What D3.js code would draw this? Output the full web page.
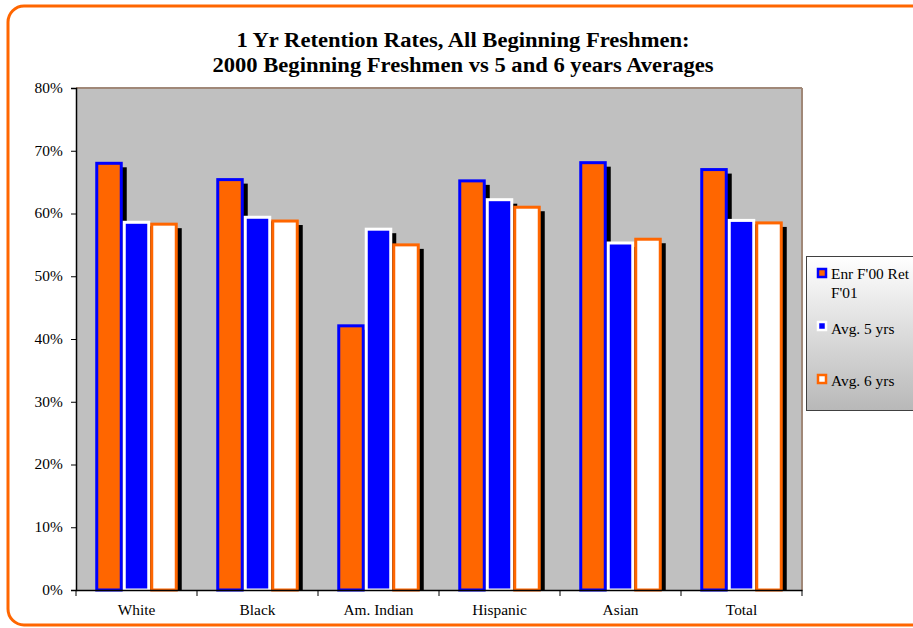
<!DOCTYPE html>
<html><head><meta charset="utf-8">
<script src="https://cdn.jsdelivr.net/npm/d3@7"></script>
<style>body{margin:0;background:#fff;}svg{display:block;}</style>
</head><body>
<svg id="c" width="913" height="628"></svg>
<script>
const categories = ["White","Black","Am. Indian","Hispanic","Asian","Total"];
const seriesNames = ["Enr F'00 Ret F'01","Avg. 5 yrs","Avg. 6 yrs"];
const enrF00 = [68.0, 65.4, 42.1, 65.2, 68.1, 67.0];
const avg5 = [58.6, 59.4, 57.5, 62.2, 55.3, 58.9];
const avg6 = [58.3, 58.8, 55.0, 61.0, 55.9, 58.5];
const yTicks = [0,10,20,30,40,50,60,70,80];
const titleLines = ["1 Yr Retention Rates, All Beginning Freshmen:","2000 Beginning Freshmen vs 5 and 6 years Averages"];

const styles = [
  {fill:"#FF6600", stroke:"#0000FF"},
  {fill:"#0000FF", stroke:"#FFFFFF"},
  {fill:"#FFFFFF", stroke:"#FF6600"}
];
const seriesData = [enrF00, avg5, avg6];

const svg = d3.select("#c");
const font = "'Liberation Serif','Times New Roman',serif";
const SX = 1.1;

// outer frame
svg.append("rect").attr("x",8).attr("y",6).attr("width",930).attr("height",619)
  .attr("rx",16).attr("fill","#fff").attr("stroke","#FF6600").attr("stroke-width",3);

// title
svg.selectAll("text.title").data(titleLines).join("text").attr("class","title")
  .attr("transform",(d,i)=>`translate(463,${47+i*25}) scale(1.13,1)`).attr("text-anchor","middle")
  .attr("font-family",font).attr("font-weight","bold").attr("font-size",20)
  .attr("fill","#000").text(d=>d);

const L=76, R=802, T=88, B=590;
const x = d3.scaleBand().domain(categories).range([L,R]);
const y = d3.scaleLinear().domain([0,80]).range([B,T]);
const barW = 27.5;
const inner = d3.scaleBand().domain(d3.range(3)).range([0, barW*3]).padding(0);

// plot area
svg.append("rect").attr("x",L).attr("y",T).attr("width",R-L).attr("height",B-T).attr("fill","#C0C0C0");
svg.append("line").attr("x1",L).attr("x2",R).attr("y1",T).attr("y2",T).attr("stroke","#A08878").attr("stroke-width",2);
svg.append("line").attr("x1",R).attr("x2",R).attr("y1",T).attr("y2",B).attr("stroke","#A08878").attr("stroke-width",2);

// bars
const g = svg.append("g");
categories.forEach((c,ci)=>{
  const x0 = x(c) + x.bandwidth()/2 - barW*1.5;
  seriesData.forEach((arr,si)=>{
    const v = arr[ci];
    const bx = x0 + inner(si), by = y(v), bh = B - y(v);
    g.append("rect").attr("x",bx+4).attr("y",by+4).attr("width",barW).attr("height",bh-4).attr("fill","#000");
    g.append("rect").attr("x",bx+1.5).attr("y",by).attr("width",barW-3).attr("height",bh)
      .attr("fill",styles[si].fill).attr("stroke",styles[si].stroke).attr("stroke-width",3);
  });
});

// axes
const yAxis = d3.axisLeft(y).tickValues(yTicks).tickFormat(d=>d+"%").tickSize(5).tickPadding(7);
const ya = svg.append("g").attr("transform",`translate(${L},0)`).call(yAxis);
ya.select(".domain").attr("stroke","#000").attr("stroke-width",1.5);
ya.selectAll(".tick line").attr("stroke","#000");
ya.selectAll("text").attr("font-family",font).attr("font-size",14).attr("fill","#000")
  .attr("transform",`scale(${SX},1)`);

const xAxis = d3.axisBottom(x).tickSize(0).tickPadding(15);
const xa = svg.append("g").attr("transform",`translate(0,${B})`).call(xAxis);
xa.select(".domain").attr("stroke","#000").attr("stroke-width",1.5);
xa.selectAll("text").attr("font-family",font).attr("font-size",14).attr("fill","#000")
  .attr("transform",`scale(${SX},1)`);
xa.selectAll("line.sep").data(d3.range(categories.length+1)).join("line").attr("class","sep")
  .attr("x1",i=>L+i*x.step()).attr("x2",i=>L+i*x.step()).attr("y1",0).attr("y2",6).attr("stroke","#000");

// legend
const defs = svg.append("defs");
const grad = defs.append("linearGradient").attr("id","lg").attr("x1",0).attr("y1",0).attr("x2",0).attr("y2",1);
grad.append("stop").attr("offset","0%").attr("stop-color","#FFFFFF");
grad.append("stop").attr("offset","100%").attr("stop-color","#B8B8B8");
svg.append("rect").attr("x",806.5).attr("y",256.5).attr("width",120).attr("height",154)
  .attr("fill","url(#lg)").attr("stroke","#404040").attr("stroke-width",1);
const legY = [273, 326, 379];
seriesNames.forEach((n,i)=>{
  svg.append("rect").attr("x",818).attr("y",legY[i]-4).attr("width",8).attr("height",8)
    .attr("fill",styles[i].fill).attr("stroke",styles[i].stroke).attr("stroke-width",2.5);
});
const legText = [["Enr F'00 Ret",279],["F'01",298],[seriesNames[1],334],[seriesNames[2],386]];
svg.append("g").attr("font-family",font).attr("font-size",14).attr("fill","#000")
  .selectAll("text").data(legText).join("text")
  .attr("transform",d=>`translate(831,${d[1]}) scale(${SX},1)`).text(d=>d[0]);
</script>
</body></html>
